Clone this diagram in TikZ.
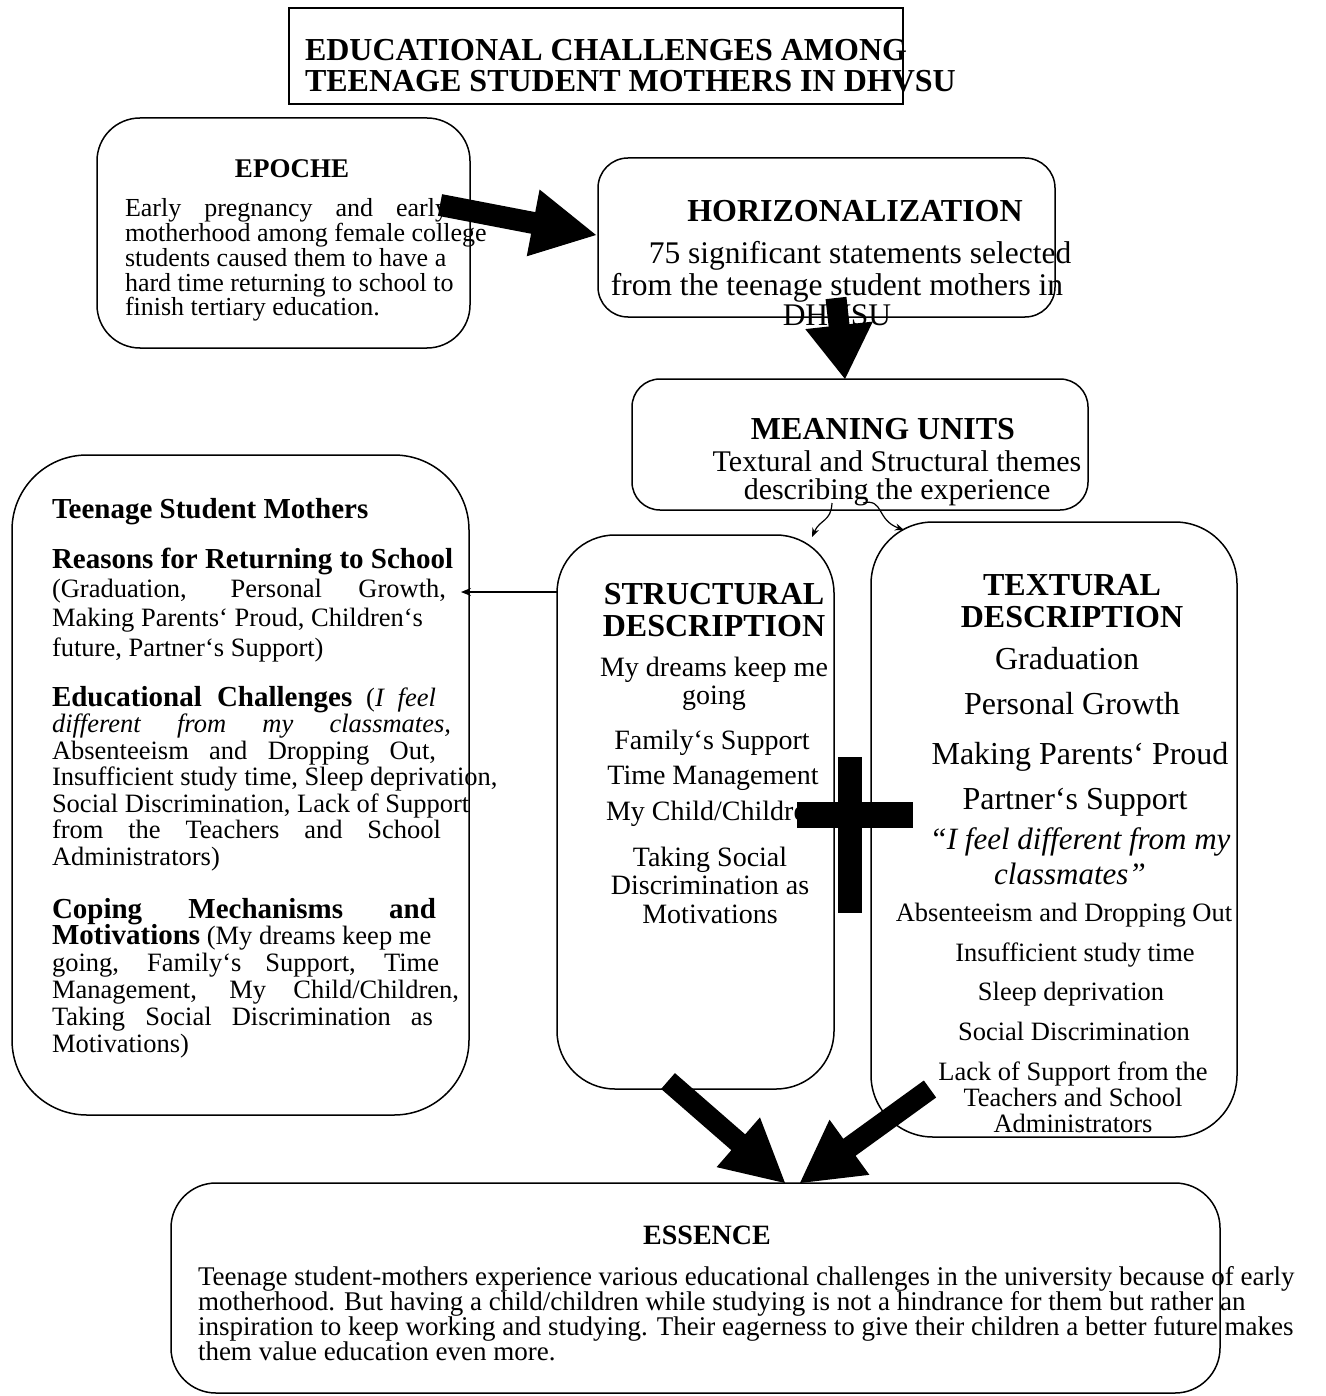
\documentclass[tikz,border=0pt]{standalone}
\usepackage{fontspec}
\setmainfont{Liberation Serif}
\usetikzlibrary{calc,arrows.meta}
\lineskiplimit=-60pt
\newcommand\fsz[2]{\fontsize{#1}{#2}\selectfont\lineskiplimit=-60pt}
% fat arrow: #1 tail, #2 tip, #3 half shaft width, #4 half head width, #5 head length
\newcommand\fatarr[5]{%
  \coordinate (neck-#1) at ($(#2)!#5!(#1)$);
  \fill ($(#1)!#3!90:(#2)$) -- ($(neck-#1)!#3!90:(#2)$) -- ($(neck-#1)!#4!90:(#2)$) -- (#2)
    -- ($(neck-#1)!#4!-90:(#2)$) -- ($(neck-#1)!#3!-90:(#2)$) -- ($(#1)!#3!-90:(#2)$) -- cycle;}
\begin{document}
\begin{tikzpicture}[x=1pt,y=-1pt,
  box/.style={draw, line width=1.5pt, inner sep=0pt, outer sep=0pt},
  txt/.style={inner sep=0pt, outer sep=0pt},
  thinarrow/.style={line width=1.3pt, -{Stealth[length=10pt,width=8pt]}},
  curlarrow/.style={line width=1.2pt, -{Stealth[length=9pt,width=7pt]}}]
\fill[white] (0,0) rectangle (1325,1396);
\useasboundingbox (0,0) rectangle (1325,1396);
\clip (0,0) rectangle (1325,1396);

% boxes
\node[box, line width=1.8pt, minimum width=614pt, minimum height=96pt] (titlebox) at (596,56) {};
\node[box, rounded corners=43pt, minimum width=373pt, minimum height=230pt] (epoche) at (283.5,233) {};
\node[box, rounded corners=30pt, minimum width=457pt, minimum height=159pt] (horiz) at (826.5,237.5) {};
\node[box, rounded corners=28pt, minimum width=456pt, minimum height=131pt] (meaning) at (860,444.5) {};
\node[box, rounded corners=75pt, minimum width=457pt, minimum height=660pt] (leftbox) at (240.5,785) {};
\node[box, rounded corners=58pt, minimum width=277pt, minimum height=554pt] (struct) at (695.5,812) {};
\node[box, rounded corners=62pt, minimum width=366pt, minimum height=615pt] (textural) at (1054,829.5) {};
\node[box, rounded corners=45pt, minimum width=1049pt, minimum height=210pt] (essence) at (695.5,1288) {};

% title (base anchor = baseline of last line)
\node[txt, anchor=base west, align=left, font=\bfseries\fsz{32}{31}] (title) at (305,92)
  {EDUCATIONAL CHALLENGES AMONG\\TEENAGE STUDENT MOTHERS IN DHVSU};

% epoche
\node[txt, anchor=base, font=\bfseries\fsz{27}{27}] (epT) at (292,178) {EPOCHE};
\node[txt, anchor=base west, align=left, font=\fsz{26}{24.75}] (epB) at (125,316)
  {\makebox[323pt][s]{Early pregnancy and early}\\motherhood among female college\\students caused them to have a\\hard time returning to school to\\finish tertiary education.};

% horizonalization
\node[txt, anchor=base, font=\bfseries\fsz{32}{32}] (hT) at (855,222) {HORIZONALIZATION};
\node[txt, anchor=base, font=\fsz{31.5}{30}] (hB1) at (860,264) {75 significant statements selected};
\node[txt, anchor=base, align=center, font=\fsz{31.5}{30}] (hB2) at (837,326)
  {from the teenage student mothers in\\DHVSU};

% meaning units
\node[txt, anchor=base, font=\bfseries\fsz{32}{32}] (mT) at (883,439) {MEANING UNITS};
\node[txt, anchor=base, align=center, font=\fsz{30}{28}] (mB) at (897,499)
  {Textural and Structural themes\\describing the experience};

% left box
\node[txt, anchor=base west, font=\bfseries\fsz{29}{29}] (L0) at (52,518) {Teenage Student Mothers};
\node[txt, anchor=base west, align=left, font=\fsz{26.5}{29.3}] (L1) at (52,656)
  {{\bfseries\fsz{29}{29.3}Reasons for Returning to School}\\
   \makebox[394pt][s]{(Graduation, Personal Growth,}\\
   Making Parents‘ Proud, Children‘s\\
   future, Partner‘s Support)};
\node[txt, anchor=base west, align=left, font=\fsz{26.5}{26.5}] (L2) at (52,865)
  {\makebox[384pt][s]{{\bfseries\fsz{29}{26.5}Educational Challenges} (\textit{I feel}}\\
   \makebox[399pt][s]{\itshape different from my classmates,}\\
   \makebox[384pt][s]{Absenteeism and Dropping Out,}\\
   Insufficient study time, Sleep deprivation,\\
   Social Discrimination, Lack of Support\\
   \makebox[389pt][s]{from the Teachers and School}\\
   Administrators)};
\node[txt, anchor=base west, align=left, font=\fsz{26.5}{26.8}] (L3) at (52,1052)
  {\makebox[384pt][s]{\bfseries\fsz{29}{26.8}Coping Mechanisms and}\\
   {\bfseries\fsz{29}{26.8}Motivations} (My dreams keep me\\
   \makebox[387pt][s]{going, Family‘s Support, Time}\\
   \makebox[407pt][s]{Management, My Child/Children,}\\
   \makebox[381pt][s]{Taking Social Discrimination as}\\
   Motivations)};

% structural
\node[txt, anchor=base, align=center, font=\bfseries\fsz{32}{32}] (sT) at (714,636) {STRUCTURAL\\DESCRIPTION};
\node[txt, anchor=base, align=center, font=\fsz{28}{28}] (s1) at (714,704) {My dreams keep me\\going};
\node[txt, anchor=base, font=\fsz{28}{28}] (s2) at (712,749) {Family‘s Support};
\node[txt, anchor=base, font=\fsz{28}{28}] (s3) at (713,784) {Time Management};
\node[txt, anchor=base, font=\fsz{28}{28}] (s4) at (713,820) {My Child/Children};
\node[txt, anchor=base, align=center, font=\fsz{28}{28.5}] (s5) at (710,923) {Taking Social\\Discrimination as\\Motivations};

% textural
\node[txt, anchor=base, align=center, font=\bfseries\fsz{32}{32}] (tT) at (1072,627) {TEXTURAL\\DESCRIPTION};
\node[txt, anchor=base, font=\fsz{32}{32}] (t1) at (1067,669) {Graduation};
\node[txt, anchor=base, font=\fsz{32}{32}] (t2) at (1072,714) {Personal Growth};
\node[txt, anchor=base, font=\fsz{32}{32}] (t3) at (1080,764) {Making Parents‘ Proud};
\node[txt, anchor=base, font=\fsz{32}{32}] (t4) at (1075,809) {Partner‘s Support};
\node[txt, anchor=base, font=\itshape\fsz{31}{31}] (t5) at (1080,849) {“I feel different from my};
\node[txt, anchor=base, font=\itshape\fsz{31}{31}] (t6) at (1070,884) {classmates”};
\node[txt, anchor=base, font=\fsz{26.5}{26}] (t7) at (1064,921) {Absenteeism and Dropping Out};
\node[txt, anchor=base, font=\fsz{26.5}{26}] (t8) at (1075,961) {Insufficient study time};
\node[txt, anchor=base, font=\fsz{26.5}{26}] (t9) at (1071,1000) {Sleep deprivation};
\node[txt, anchor=base, font=\fsz{26.5}{26}] (t10) at (1074,1040) {Social Discrimination};
\node[txt, anchor=base, align=center, font=\fsz{26.5}{26}] (t11) at (1073,1132)
  {Lack of Support from the\\Teachers and School\\Administrators};

% essence
\node[txt, anchor=base, font=\bfseries\fsz{28}{28}] (eT) at (707,1244) {ESSENCE};
\node[txt, anchor=base west, align=left, font=\fsz{27}{24.7}] (eB) at (198,1360)
  {Teenage student-mothers experience various educational challenges in the university because of early\\
   motherhood. But having a child/children while studying is not a hindrance for them but rather an\\
   inspiration to keep working and studying. Their eagerness to give their children a better future makes\\
   them value education even more.};

% thin connectors
\coordinate (c1) at (557,592);
\coordinate (c2) at (461,592);
\draw[thinarrow] (c1) -- (c2);
\coordinate (m1) at (832,503);
\coordinate (m1e) at (812,537);
\draw[curlarrow] (m1) .. controls (831,522) and (820,519) .. (m1e);
\coordinate (m2) at (863,503);
\coordinate (m2e) at (904,530);
\draw[curlarrow] (m2) .. controls (884,498) and (876,520) .. (m2e);

% fat arrows
\coordinate (a1s) at (440,205); \coordinate (a1e) at (596,235);
\fatarr{a1s}{a1e}{11pt}{34pt}{64pt}
\coordinate (a2s) at (836,298); \coordinate (a2e) at (845,379);
\fatarr{a2s}{a2e}{10.5pt}{34pt}{54pt}
\coordinate (a3s) at (668,1081); \coordinate (a3e) at (785,1183);
\fatarr{a3s}{a3e}{10.5pt}{33pt}{62pt}
\coordinate (a4s) at (930,1089); \coordinate (a4e) at (800,1183);
\fatarr{a4s}{a4e}{10.5pt}{34pt}{61pt}

% plus sign
\fill (838,757) rectangle (862,913);
\fill (797,802) rectangle (913,828);
\end{tikzpicture}
\end{document}
